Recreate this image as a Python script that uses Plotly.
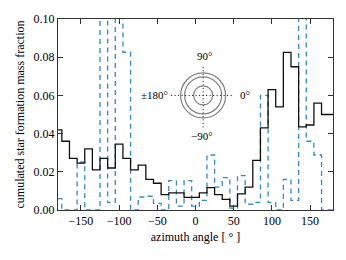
import plotly.graph_objects as go

# bin centres (degrees)
angles = list(range(-180, 181, 10))

# black solid step line
frac_total = [0.042, 0.036, 0.027, 0.0245, 0.032, 0.021, 0.027, 0.022, 0.0345, 0.027,
              0.021, 0.0235, 0.016, 0.014, 0.008, 0.009, 0.009, 0.0066, 0.0066, 0.009,
              0.0117, 0.008, 0.0056, 0.002, 0.0084, 0.012, 0.026, 0.043, 0.063, 0.054,
              0.0825, 0.075, 0.0435, 0.0445, 0.056, 0.050, 0.050]

# blue dashed step line (values above 0.10 run off the top)
frac_other = [0.006, 0.0, 0.0, 0.025, 0.0, 0.0, 0.15, 0.004, 0.15, 0.0826,
              0.0, 0.0068, 0.0072, 0.0035, 0.0, 0.0154, 0.002, 0.0154, 0.002, 0.005,
              0.0288, 0.012, 0.017, 0.001, 0.018, 0.003, 0.004, 0.060, 0.004, 0.0,
              0.016, 0.005, 0.15, 0.036, 0.0288, 0.0, 0.0]

x_ticks = [-150, -100, -50, 0, 50, 100, 150]
y_ticks = [0.00, 0.02, 0.04, 0.06, 0.08, 0.10]

FONT = "Liberation Serif, Times New Roman, serif"

fig = go.Figure()
fig.add_trace(go.Scatter(x=angles, y=frac_other, mode="lines", line_shape="hvh",
                         line=dict(color="#348ABD", width=1.3, dash="5px,4px"),
                         showlegend=False, hoverinfo="skip"))
fig.add_trace(go.Scatter(x=angles, y=frac_total, mode="lines", line_shape="hvh",
                         line=dict(color="#111111", width=1.3),
                         showlegend=False, hoverinfo="skip"))

# inset orientation diagram
cx, cy = 10, 0.060
shapes = []
for r in [22.5, 18.5, 9.5]:
    shapes.append(dict(type="circle", xref="x", yref="y", xsizemode="pixel", ysizemode="pixel",
                       xanchor=cx, yanchor=cy, x0=-r, x1=r, y0=-r, y1=r,
                       line=dict(color="#808080", width=1.2)))
shapes.append(dict(type="line", xref="x", yref="y", xsizemode="pixel", ysizemode="pixel",
                   xanchor=cx, yanchor=cy, x0=-32, x1=31, y0=0, y1=0,
                   line=dict(color="black", width=1, dash="1px,2.5px")))
shapes.append(dict(type="line", xref="x", yref="y", xsizemode="pixel", ysizemode="pixel",
                   xanchor=cx, yanchor=cy, x0=0, x1=0, y0=-32, y1=30,
                   line=dict(color="black", width=1, dash="1px,2.5px")))

annots = [
    dict(x=cx, y=cy, text="90°", showarrow=False, yshift=39, xshift=1, font=dict(size=11)),
    dict(x=cx, y=cy, text="−90°", showarrow=False, yshift=-41, xshift=-1, font=dict(size=11)),
    dict(x=cx, y=cy, text="0°", showarrow=False, xshift=35, xanchor="left", font=dict(size=11)),
    dict(x=cx, y=cy, text="±180°", showarrow=False, xshift=-33, xanchor="right", font=dict(size=11)),
]

# the page body has an 8px default margin, so the figure is sized/offset to compensate
fig.update_layout(
    width=338, height=252,
    margin=dict(l=50, r=13, t=11, b=50),
    paper_bgcolor="white", plot_bgcolor="white",
    font=dict(family=FONT, size=12, color="black"),
    shapes=shapes, annotations=annots,
)
fig.update_xaxes(range=[-180, 180], tickvals=x_ticks, ticks="inside", ticklen=5,
                 tickcolor="#333", showline=True, linecolor="#333", linewidth=1,
                 mirror="ticks", showgrid=False, zeroline=False, automargin=False,
                 title=dict(text="azimuth angle [ ° ]", standoff=5, font=dict(size=12)))
fig.update_yaxes(range=[0, 0.10], tickvals=y_ticks, tickformat=".2f", ticks="inside",
                 ticklen=5, tickcolor="#333", showline=True, linecolor="#333", linewidth=1,
                 mirror="ticks", showgrid=False, zeroline=False, automargin=False,
                 title=dict(text="cumulated star formation mass fraction", standoff=6,
                            font=dict(size=12)))

fig.write_html("out.html")
